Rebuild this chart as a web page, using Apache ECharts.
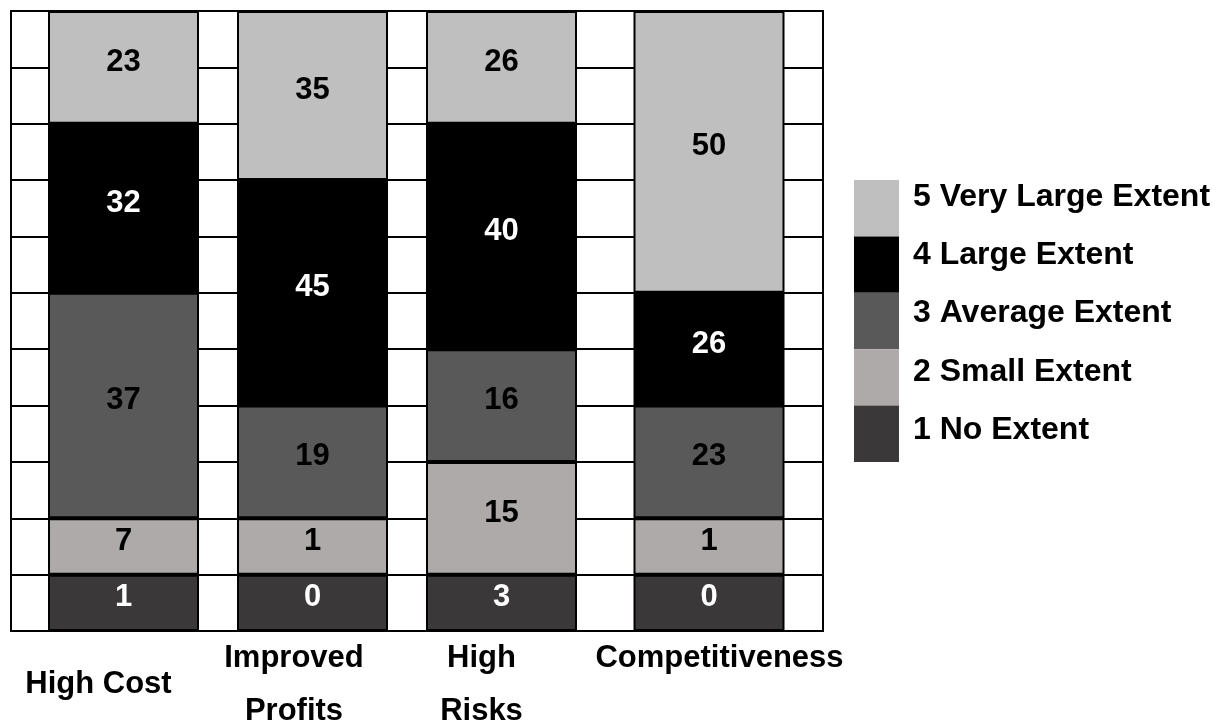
<!DOCTYPE html>
<html>
<head>
<meta charset="utf-8">
<script src="https://cdn.jsdelivr.net/npm/echarts@6/dist/echarts.min.js"></script>
<style>
  html, body { margin: 0; padding: 0; background: #ffffff; }
  #chart { width: 1223px; height: 722px; }
</style>
</head>
<body>
<div id="chart"></div>
<script>
// Survey items (a "\n" marks where the axis label wraps)
const categories = ['High Cost', 'Improved\nProfits', 'High\nRisks', 'Competitiveness'];

// Response levels, bottom of each column to top
const levels = ['1 No Extent', '2 Small Extent', '3 Average Extent', '4 Large Extent', '5 Very Large Extent'];

// Share of respondents (%) per level, one entry per survey item
const noExtent        = [1, 0, 3, 0];
const smallExtent     = [7, 1, 15, 1];
const averageExtent   = [37, 19, 16, 23];
const largeExtent     = [32, 45, 40, 26];
const veryLargeExtent = [23, 35, 26, 50];

// Number of table rows each cell occupies in its column
const noExtentRows        = [1, 1, 1, 1];
const smallExtentRows     = [1, 1, 2, 1];
const averageExtentRows   = [4, 2, 2, 2];
const largeExtentRows     = [3, 4, 4, 2];
const veryLargeExtentRows = [2, 3, 2, 5];

const tableRows = 11;

const shares = [noExtent, smallExtent, averageExtent, largeExtent, veryLargeExtent];
const spans = [noExtentRows, smallExtentRows, averageExtentRows, largeExtentRows, veryLargeExtentRows];

const fills = ['#3A3838', '#AEAAAA', '#595959', '#000000', '#BFBFBF'];
const inks  = ['#ffffff', '#000000', '#000000', '#ffffff', '#000000'];

const FONT = '"Liberation Sans", Arial, Helvetica, sans-serif';

// The last column sits after a wider spacer, so the columns live in two grids
const columnGroups = [[0, 1, 2], [3]];

// per-column axis label styling: line heights and sideways nudge
const txt = { fontFamily: FONT, fontWeight: 'bold', fontSize: 31, color: '#000' };
const labelRich = {
  a0: Object.assign({}, txt, { lineHeight: 84, padding: [0, 50, 0, 0] }),
  b0: Object.assign({}, txt, { lineHeight: 32, padding: [0, 37, 0, 0] }),
  b1: Object.assign({}, txt, { lineHeight: 74, padding: [0, 37, 0, 0] }),
  c0: Object.assign({}, txt, { lineHeight: 32, padding: [0, 40, 0, 0] }),
  c1: Object.assign({}, txt, { lineHeight: 74, padding: [0, 40, 0, 0] }),
  d0: Object.assign({}, txt, { lineHeight: 32, padding: [0, 0, 0, 21] })
};
const labelKeys = [['a0'], ['b0', 'b1'], ['c0', 'c1'], ['d0']];

const categoryAxis = (gridIndex, cols) => ({
  gridIndex: gridIndex,
  type: 'category',
  data: cols.map(i => categories[i]),
  axisLine: { show: false },
  axisTick: { show: false },
  axisLabel: {
    interval: 0,
    margin: 11,
    formatter: value => {
      const idx = categories.indexOf(value);
      return value.split('\n').map((line, k) => '{' + labelKeys[idx][k] + '|' + line + '}').join('\n');
    },
    rich: labelRich
  }
});

const series = [];
columnGroups.forEach((cols, gi) => {
  levels.forEach((name, li) => {
    series.push({
      name: name,
      type: 'bar',
      stack: 'column' + gi,
      xAxisIndex: gi + 1,
      yAxisIndex: gi + 1,
      barWidth: 151,
      data: cols.map(ci => ({ value: spans[li][ci], share: shares[li][ci] })),
      itemStyle: { color: fills[li], borderColor: '#000000', borderWidth: 2 },
      label: {
        show: true,
        position: 'inside',
        offset: [0, -5],
        formatter: p => String(p.data.share),
        fontFamily: FONT,
        fontWeight: 'bold',
        fontSize: 31,
        color: inks[li]
      },
      emphasis: { disabled: true }
    });
  });
});

const chart = echarts.init(document.getElementById('chart'), null, { renderer: 'canvas' });
chart.setOption({
  animation: false,
  backgroundColor: '#ffffff',
  grid: [
    // outer frame and row rules of the table
    { left: 11, right: 400, top: 11, bottom: 91, outerBoundsMode: 'none', show: true, borderColor: '#000000', borderWidth: 2, backgroundColor: '#ffffff' },
    // first three columns
    { left: 29, width: 567, top: 11, bottom: 91, outerBoundsMode: 'none' },
    // last column
    { left: 614.5, width: 189, top: 11, bottom: 91, outerBoundsMode: 'none' }
  ],
  xAxis: [
    { gridIndex: 0, type: 'value', min: 0, max: 1, show: false },
    categoryAxis(1, columnGroups[0]),
    categoryAxis(2, columnGroups[1])
  ],
  yAxis: [
    {
      gridIndex: 0,
      type: 'value',
      min: 0,
      max: tableRows,
      interval: 1,
      axisLine: { show: false },
      axisTick: { show: false },
      axisLabel: { show: false },
      splitLine: { show: true, lineStyle: { color: '#000000', width: 2 } }
    },
    { gridIndex: 1, type: 'value', min: 0, max: tableRows, show: false },
    { gridIndex: 2, type: 'value', min: 0, max: tableRows, show: false }
  ],
  legend: [
    // colour swatches, stacked edge to edge
    {
      orient: 'vertical',
      left: 854,
      top: 180,
      icon: 'rect',
      itemWidth: 45,
      itemHeight: 56.4,
      itemGap: 0,
      padding: 0,
      selectedMode: false,
      data: levels.slice().reverse(),
      itemStyle: { borderWidth: 0 },
      formatter: () => ''
    },
    // level names beside the swatches
    {
      orient: 'vertical',
      left: 908,
      top: 167.5,
      icon: 'none',
      itemWidth: 0,
      itemHeight: 0,
      itemGap: 0,
      padding: 0,
      selectedMode: false,
      data: levels.slice().reverse(),
      textStyle: {
        fontFamily: FONT,
        fontWeight: 'bold',
        fontSize: 32,
        lineHeight: 58.4,
        color: '#000000'
      }
    }
  ],
  series: series
});
</script>
</body>
</html>
